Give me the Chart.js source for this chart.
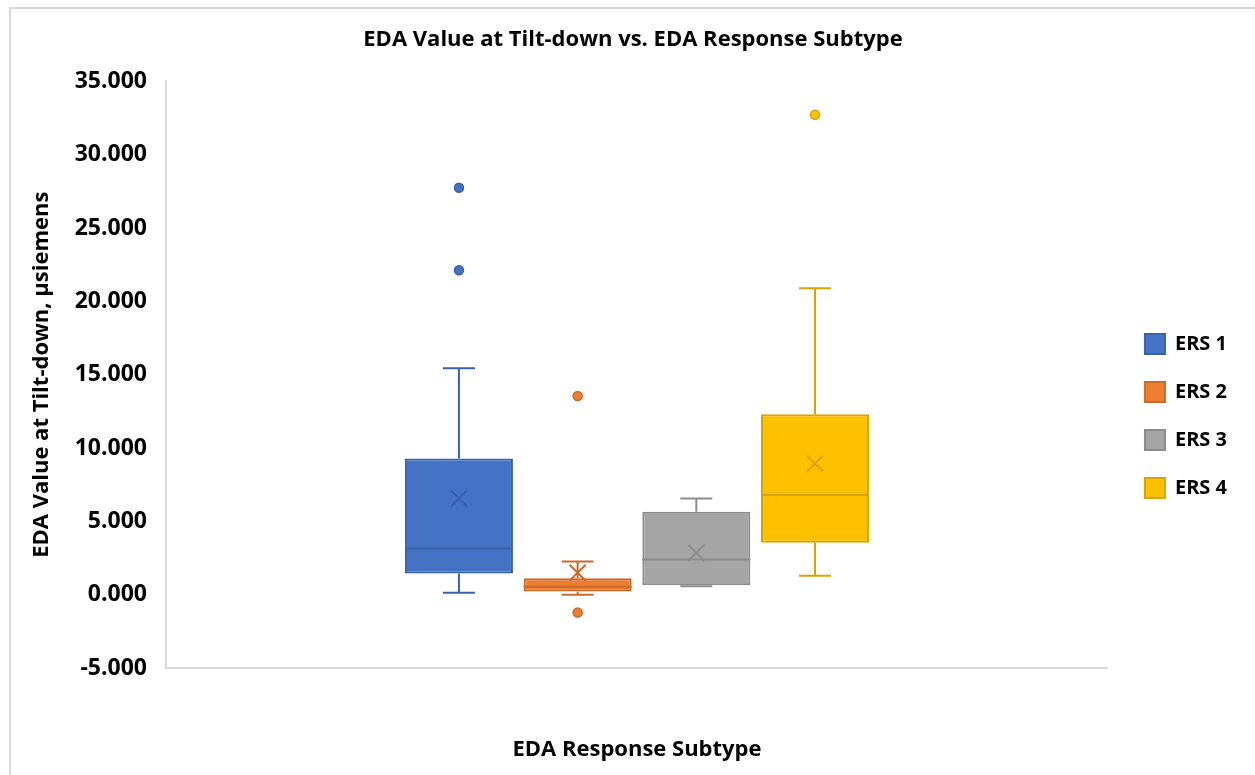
<!DOCTYPE html>
<html>
<head>
<meta charset="utf-8">
<script src="https://cdn.jsdelivr.net/npm/chart.js@4"></script>
<style>
    html, body { margin: 0; padding: 0; background: #fff; }
    #frame {
        position: absolute; left: 9px; top: 7px;
        width: 1300px; height: 800px;
        border: 2px solid #d9d9d9; box-sizing: border-box;
    }
    #chart { position: absolute; left: 0; top: 0; }
</style>
</head>
<body>
<div id="frame"></div>
<canvas id="chart" width="1255" height="775"></canvas>
<script>
// box plot data
const categories = ['ERS 1', 'ERS 2', 'ERS 3', 'ERS 4'];
const whiskerMin = [0.13, 0.0, 0.58, 1.29];
const q1 = [1.45, 0.22, 0.65, 3.54];
const median = [3.15, 0.54, 2.40, 6.79];
const q3 = [9.29, 1.12, 5.65, 12.31];
const whiskerMax = [15.44, 2.27, 6.56, 20.89];
const means = [6.56, 1.49, 2.86, 8.95];
const outliers = [[22.12, 27.75], [13.55, -1.21], [], [32.73]];
const yTicks = [-5, 0, 5, 10, 15, 20, 25, 30, 35];

const fillColors = ['#4472C4', '#ED7D31', '#A5A5A5', '#FFC000'];
const lineColors = ['#3A62AB', '#C96A29', '#8C8C8C', '#D9A300'];

const FONT = '"Open Sans", Lato, sans-serif';

/**
 * 须线、中位线、均值叉号和离群点
 */
const boxExtras = {
    id: 'boxExtras',
    afterDatasetsDraw(chart) {
        const ctx = chart.ctx;
        const yScale = chart.scales.y;
        const py = v => yScale.getPixelForValue(v);
        chart.data.datasets.forEach((ds, i) => {
            const bar = chart.getDatasetMeta(i).data[0];
            if (!bar) {return;}
            const x = bar.x;
            const half = bar.width / 2;
            const cap = 16;
            ctx.save();
            ctx.strokeStyle = lineColors[i];
            ctx.lineWidth = 2;
            // whiskers
            ctx.beginPath();
            ctx.moveTo(x, py(q3[i]));
            ctx.lineTo(x, py(whiskerMax[i]));
            ctx.moveTo(x - cap, py(whiskerMax[i]));
            ctx.lineTo(x + cap, py(whiskerMax[i]));
            ctx.moveTo(x, py(q1[i]));
            ctx.lineTo(x, py(whiskerMin[i]));
            ctx.moveTo(x - cap, py(whiskerMin[i]));
            ctx.lineTo(x + cap, py(whiskerMin[i]));
            ctx.stroke();
            // median
            ctx.beginPath();
            ctx.moveTo(x - half, py(median[i]));
            ctx.lineTo(x + half, py(median[i]));
            ctx.stroke();
            // mean
            const my = py(means[i]);
            const s = 8;
            ctx.beginPath();
            ctx.moveTo(x - s, my - s);
            ctx.lineTo(x + s, my + s);
            ctx.moveTo(x + s, my - s);
            ctx.lineTo(x - s, my + s);
            ctx.stroke();
            // outliers
            ctx.fillStyle = fillColors[i];
            ctx.lineWidth = 1.5;
            outliers[i].forEach(v => {
                ctx.beginPath();
                ctx.arc(x, py(v), 4.5, 0, Math.PI * 2);
                ctx.fill();
                ctx.stroke();
            });
            ctx.restore();
        });
    },
};

const datasets = categories.map((name, i) => ({
    label: name,
    data: [[q1[i], q3[i]]],
    backgroundColor: fillColors[i],
    borderColor: lineColors[i],
    borderWidth: 2,
    borderSkipped: false,
    categoryPercentage: 0.504,
    barPercentage: 0.91,
}));

new Chart(document.getElementById('chart').getContext('2d'), {
    type: 'bar',
    data: { labels: [''], datasets },
    options: {
        responsive: false,
        animation: false,
        layout: { padding: { left: 29, right: 18, top: 0, bottom: 0 } },
        plugins: {
            title: {
                display: true,
                text: 'EDA Value at Tilt-down vs. EDA Response Subtype',
                color: '#000',
                font: { family: FONT, size: 22, weight: 'bold' },
                padding: { top: 27, bottom: 28 },
            },
            legend: {
                position: 'right',
                title: {
                    display: true,
                    text: ' ',
                    font: { family: FONT, size: 20 },
                    padding: { top: 0, bottom: 33 },
                },
                labels: {
                    color: '#000',
                    boxWidth: 20,
                    boxHeight: 20,
                    padding: 28,
                    font: { family: FONT, size: 20, weight: 'bold' },
                },
            },
            tooltip: { enabled: false },
        },
        scales: {
            x: {
                grid: { display: false, drawTicks: false },
                border: { display: true, color: '#d9d9d9', width: 2 },
                ticks: { display: false },
                title: {
                    display: true,
                    text: 'EDA Response Subtype',
                    color: '#000',
                    font: { family: FONT, size: 22, weight: 'bold' },
                    padding: { top: 0, bottom: 12 },
                },
                afterFit(scale) { scale.height = 107; },
            },
            y: {
                min: -5,
                max: 35,
                afterBuildTicks(scale) {
                    scale.ticks = yTicks.map(v => ({ value: v }));
                },
                grid: { display: false, drawTicks: false },
                border: { display: true, color: '#d9d9d9', width: 2 },
                ticks: {
                    padding: 19,
                    color: '#000',
                    font: { family: FONT, size: 23, weight: 'bold' },
                    callback: v => v.toFixed(3),
                },
                title: {
                    display: true,
                    text: 'EDA Value at Tilt-down, µsiemens',
                    color: '#000',
                    font: { family: FONT, size: 22, weight: 'bold' },
                    padding: { top: 0, bottom: 0 },
                },
                afterFit(scale) { scale.width = 137; },
            },
            y2: {
                position: 'right',
                display: true,
                grid: { display: false, drawTicks: false },
                border: { display: false },
                ticks: { display: false },
                afterFit(scale) { scale.width = 9; },
            },
        },
    },
    plugins: [boxExtras],
});
</script>
</body>
</html>
